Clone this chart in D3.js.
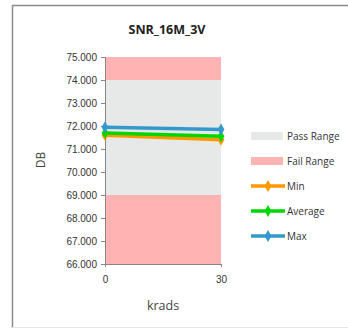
<!DOCTYPE html>
<html><head><meta charset="utf-8">
<script src="https://cdn.jsdelivr.net/npm/d3@7"></script>
<style>body{margin:0;background:#fff;}svg{display:block;font-family:"Open Sans",sans-serif;}</style>
</head><body>
<svg id="c" width="348" height="330"></svg>
<script>
const xValues = [0, 30];
const yTicks = [66, 67, 68, 69, 70, 71, 72, 73, 74, 75];
const passRange = [69, 74];
const failRanges = [[74, 75], [66, 69]];
const minValues = [71.6, 71.4];
const avgValues = [71.7, 71.55];
const maxValues = [71.95, 71.85];
const seriesNames = ["Min", "Average", "Max"];
const seriesColors = ["#FF9900", "#00D600", "#3399CC"];

const svg = d3.select("#c");
// chart frame (right edge beyond the window)
svg.append("line").attr("x1", 12).attr("x2", 348).attr("y1", 5.5).attr("y2", 5.5).attr("stroke", "#8c8c8c").attr("stroke-width", 1.5);
svg.append("line").attr("x1", 12.5).attr("x2", 12.5).attr("y1", 5).attr("y2", 328).attr("stroke", "#8c8c8c").attr("stroke-width", 1.5);
svg.append("line").attr("x1", 12).attr("x2", 348).attr("y1", 327.5).attr("y2", 327.5).attr("stroke", "#e6e6e6").attr("stroke-width", 1);

const x = d3.scaleLinear().domain([0, 30]).range([105, 221]);
const y = d3.scaleLinear().domain([66, 75]).range([264, 57]);

// ranges
svg.append("rect").attr("x", x(0)).attr("width", x(30) - x(0))
  .attr("y", y(passRange[1])).attr("height", y(passRange[0]) - y(passRange[1]))
  .attr("fill", "#E6E9E8");
failRanges.forEach(r => {
  svg.append("rect").attr("x", x(0)).attr("width", x(30) - x(0))
    .attr("y", y(r[1])).attr("height", y(r[0]) - y(r[1]))
    .attr("fill", "#FFB3B3");
});

// axes
const yAxis = d3.axisLeft(y).tickValues(yTicks).tickSize(4).tickFormat(d3.format(".3f"));
const gy = svg.append("g").attr("transform", `translate(${x(0)},0)`).call(yAxis);
gy.select(".domain").attr("stroke", "#868686");
gy.selectAll(".tick line").attr("stroke", "#868686");
gy.selectAll("text").attr("font-size", 10).attr("fill", "#333").attr("x", -8);

const xAxis = d3.axisBottom(x).tickValues(xValues).tickSize(3).tickFormat(d3.format("d"));
const gx = svg.append("g").attr("transform", `translate(0,${y(66)})`).call(xAxis);
gx.select(".domain").attr("stroke", "#868686");
gx.selectAll(".tick line").attr("stroke", "#868686");
gx.selectAll("text").attr("font-size", 10).attr("fill", "#333").attr("y", 12);

// lines
const data = [minValues, avgValues, maxValues];
const line = d3.line().x((d, i) => x(xValues[i])).y(d => y(d));
const diamond = d3.symbol().type(d3.symbolDiamond).size(40);
data.forEach((vals, k) => {
  svg.append("path").attr("d", line(vals)).attr("fill", "none")
    .attr("stroke", seriesColors[k]).attr("stroke-width", 3.5);
  vals.forEach((v, i) => {
    svg.append("path").attr("d", diamond).attr("transform", `translate(${x(xValues[i])},${y(v)})`)
      .attr("fill", seriesColors[k]);
  });
});

// titles
svg.append("text").attr("x", 167).attr("y", 34).attr("text-anchor", "middle")
  .attr("font-size", 12.5).attr("font-weight", "bold").attr("fill", "#222").text("SNR_16M_3V");
svg.append("text").attr("x", 163).attr("y", 310).attr("text-anchor", "middle")
  .attr("font-size", 12.5).attr("fill", "#444").text("krads");
svg.append("text").attr("transform", "translate(45,160) rotate(-90)").attr("text-anchor", "middle")
  .attr("font-size", 12).attr("fill", "#444").text("DB");

// legend
const lg = svg.append("g");
const legendItems = [
  {name: "Pass Range", type: "rect", color: "#E6E9E8"},
  {name: "Fail Range", type: "rect", color: "#FFB3B3"},
  {name: seriesNames[0], type: "line", color: seriesColors[0]},
  {name: seriesNames[1], type: "line", color: seriesColors[1]},
  {name: seriesNames[2], type: "line", color: seriesColors[2]}
];
const ly = [136, 161, 186, 211, 236];
legendItems.forEach((it, i) => {
  if (it.type === "rect") {
    lg.append("rect").attr("x", 251).attr("y", ly[i] - 4).attr("width", 32).attr("height", 8).attr("fill", it.color);
  } else {
    lg.append("line").attr("x1", 251).attr("x2", 285).attr("y1", ly[i]).attr("y2", ly[i])
      .attr("stroke", it.color).attr("stroke-width", 3.5);
    lg.append("path").attr("d", diamond).attr("transform", `translate(268,${ly[i]})`).attr("fill", it.color);
  }
  lg.append("text").attr("x", 287).attr("y", ly[i] + 4).attr("font-size", 10).attr("fill", "#333").text(it.name);
});
</script>
</body></html>
